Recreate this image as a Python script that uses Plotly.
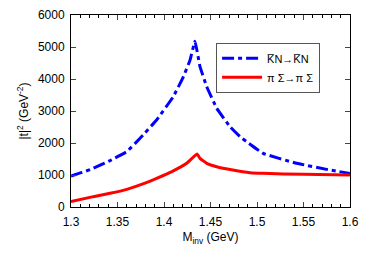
import plotly.graph_objects as go

m_kn = [1.300, 1.312, 1.324, 1.342, 1.360, 1.374, 1.392, 1.410, 1.4208, 1.428, 1.4333,
        1.4387, 1.446, 1.4566, 1.471, 1.4817, 1.489, 1.5065, 1.5427, 1.5785, 1.600]
t_kn = [970, 1080, 1210, 1450, 1730, 2140, 2720, 3450, 4070, 4590, 5180,
        4385, 3760, 3090, 2510, 2200, 2040, 1677, 1365, 1156, 1050]

m_ps = [1.300, 1.324, 1.342, 1.360, 1.381, 1.392, 1.408, 1.4244, 1.4355,
        1.4387, 1.446, 1.4566, 1.474, 1.4925, 1.5065, 1.550, 1.600]
t_ps = [167, 323, 427, 552, 760, 895, 1100, 1365, 1656,
        1520, 1365, 1260, 1156, 1073, 1052, 1020, 1000]

x_tickvals = [1.3, 1.35, 1.4, 1.45, 1.5, 1.55, 1.6]
x_ticktext = ["1.3", "1.35", "1.4", "1.45", "1.5", "1.55", "1.6"]

fig = go.Figure()
fig.add_trace(go.Scatter(x=m_kn, y=t_kn, mode="lines", name="K\u0305N\u2192K\u0305N",
                         line=dict(color="#0000ff", width=3, dash="12px,4px,4px,4px", shape="spline", smoothing=0.3)))
fig.add_trace(go.Scatter(x=m_ps, y=t_ps, mode="lines", name="\u03c0 \u03a3\u2192\u03c0 \u03a3",
                         line=dict(color="#ff0000", width=3, shape="spline", smoothing=0.3)))

axis_common = dict(showline=True, linecolor="black", linewidth=1, mirror="ticks", ticks="inside",
                   showgrid=False, zeroline=False, automargin=False,
                   tickfont=dict(size=12, color="black"))
fig.update_xaxes(range=[1.3, 1.6], tickmode="array", tickvals=x_tickvals, ticktext=x_ticktext, ticklen=5,
                 tickangle=0, ticklabelstandoff=4,
                 minor=dict(ticks="inside", dtick=0.01, tick0=1.3, ticklen=3, tickcolor="black"),
                 title=dict(text="M<sub>inv</sub> (GeV)", font=dict(size=12, color="black"), standoff=4),
                 **axis_common)
fig.update_yaxes(range=[0, 6000], dtick=1000, ticklen=5, ticklabelstandoff=3,
                 title=dict(text="|t|<sup>2</sup> (GeV<sup>-2</sup>)", font=dict(size=12, color="black"), standoff=6),
                 **axis_common)
fig.update_layout(width=374, height=262, margin=dict(l=71, r=24, t=15, b=55, autoexpand=False),
                  plot_bgcolor="white", paper_bgcolor="white",
                  font=dict(family="Liberation Sans, Arial, sans-serif", color="black"),
                  legend=dict(x=0.52, y=0.855, xanchor="left", yanchor="top", bgcolor="white",
                              bordercolor="#555", borderwidth=1, font=dict(size=11),
                              tracegroupgap=0, itemwidth=40),
                  showlegend=True)
fig.write_html("out.html", config={"displayModeBar": False},
               post_script="document.body.style.margin='0';document.body.style.overflow='hidden';")
